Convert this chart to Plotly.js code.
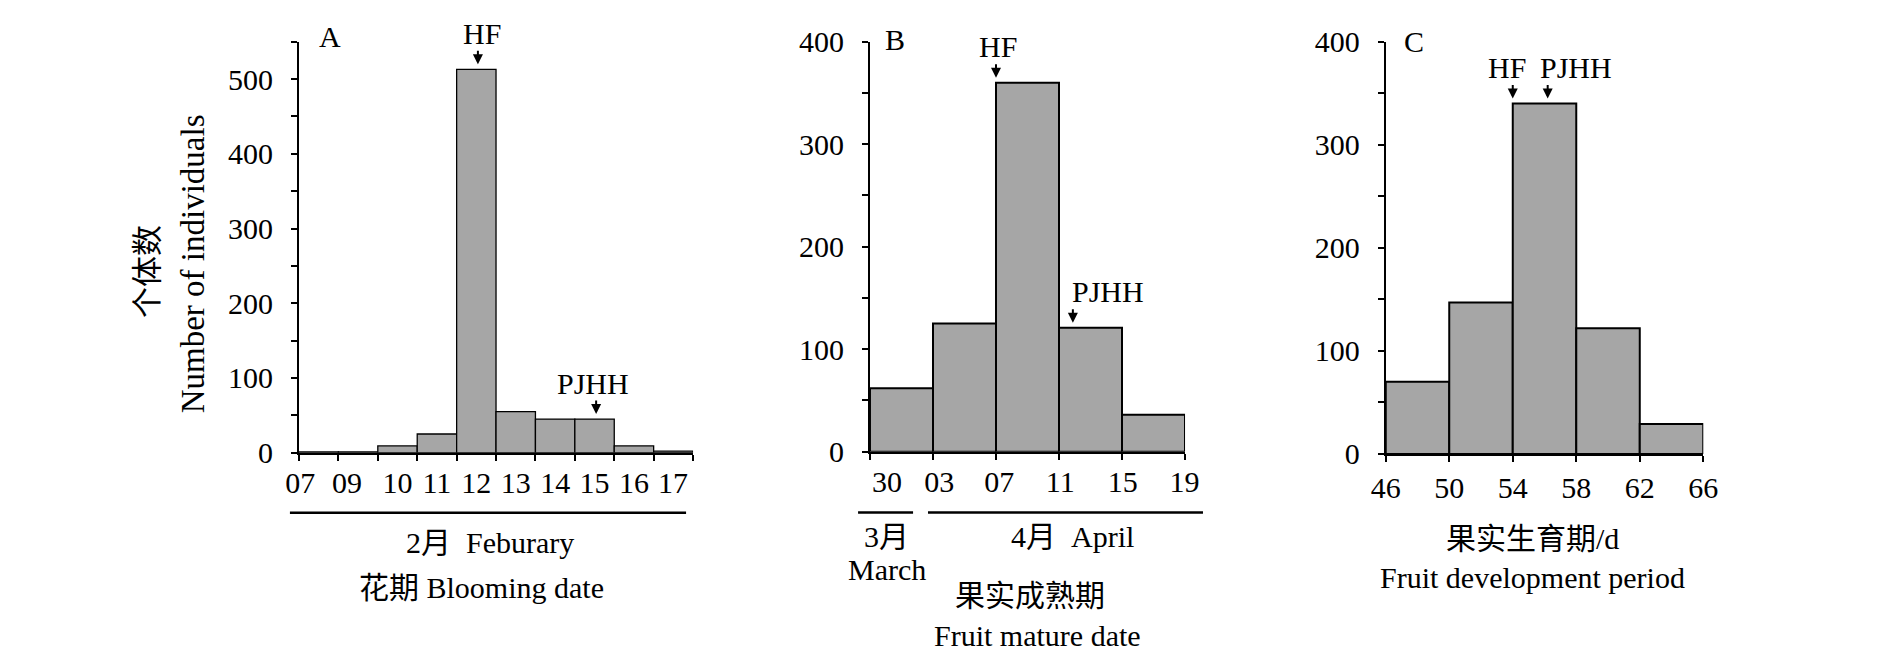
<!DOCTYPE html>
<html>
<head>
<meta charset="utf-8">
<script src="https://cdn.plot.ly/plotly-3.0.1.min.js"></script>
<style>html,body{margin:0;padding:0;background:#fff;}#chart{width:1890px;height:655px;}</style>
</head>
<body>
<div id="chart"></div>
<script>
// ---------- data ----------
const bloomingLabels = ['07','09','10','11','12','13','14','15','16','17'];
const bloomingCounts = [1, 1, 9, 25, 513, 55, 45, 45, 9, 2];
const matureLabels = ['30','03','07','11','15','19'];
const matureCounts = [62, 125, 360, 121, 36];
const developEdges = [46, 50, 54, 58, 62, 66];
const developCounts = [70, 147, 340, 122, 29];
// markers (HF / PJHH) per panel
const markersA = [{label:'HF', x:4.54, tx:4.64}, {label:'PJHH', x:7.54, tx:7.46}];
const markersB = [{label:'HF', x:2.0, tx:2.03}, {label:'PJHH', x:3.22, tx:3.78}];
const markersC = [{label:'HF', x:54.0, tx:53.66}, {label:'PJHH', x:56.2, tx:57.96}];

// ---------- layout helpers (positions, not data) ----------
const bloomingLabelPos = [0.03, 1.22, 2.5, 3.5, 4.5, 5.5, 6.5, 7.5, 8.5, 9.49];
const matureLabelPos = [0.27, 1.1, 2.05, 3.02, 4.01, 4.99];

const FONT = 'Liberation Serif, Noto Sans CJK SC, serif';
const BAR = '#a6a6a6';

function centers(n){ return Array.from({length:n}, (_, i) => i + 0.5); }
const devCenters = developCounts.map((_, i) => (developEdges[i] + developEdges[i+1]) / 2);

const traces = [
  {type:'bar', x:centers(bloomingCounts.length), y:bloomingCounts, width:1,
   marker:{color:BAR, line:{color:'#000', width:1.3}}, xaxis:'x', yaxis:'y', hoverinfo:'none'},
  {type:'bar', x:centers(matureCounts.length), y:matureCounts, width:1,
   marker:{color:BAR, line:{color:'#000', width:2}}, xaxis:'x2', yaxis:'y2', hoverinfo:'none'},
  {type:'bar', x:devCenters, y:developCounts, width:4,
   marker:{color:BAR, line:{color:'#000', width:2}}, xaxis:'x3', yaxis:'y3', hoverinfo:'none'}
];

function yAxis(domain, range, anchor){
  return {domain:domain, range:range, anchor:anchor, showgrid:false, zeroline:false,
    showline:true, linecolor:'#000', linewidth:2, ticks:'outside', ticklen:6, tickwidth:2,
    tickcolor:'#000', tickmode:'linear', tick0:0, dtick:100, ticklabelstandoff:12,
    tickfont:{family:FONT, size:30, color:'#000'},
    minor:{ticks:'outside', ticklen:6, tickwidth:2, tickcolor:'#000', dtick:50, tick0:0}};
}
function xAxisCat(domain, n, pos, labels, anchor){
  const mt = []; for (let i = 0; i <= n; i++) mt.push(i);
  return {domain:domain, range:[0, n], anchor:anchor, showgrid:false, zeroline:false,
    showline:true, linecolor:'#000', linewidth:2, ticks:'', tickmode:'array',
    tickvals:pos, ticktext:labels, ticklabelstandoff:2,
    tickfont:{family:FONT, size:30, color:'#000'},
    minor:{ticks:'outside', ticklen:6, tickwidth:2, tickcolor:'#000', tickmode:'array', tickvals:mt}};
}

const ann = [];
function txt(t, x, y, extra){ ann.push(Object.assign({text:t, x:x, y:y, xref:'paper', yref:'paper',
  showarrow:false, xanchor:'center', yanchor:'middle', font:{family:FONT, size:30, color:'#000'}}, extra||{})); }

function addMarkers(markers, xr, yr, valueAt){
  markers.forEach(m => {
    const v = valueAt(m.x);
    ann.push({x:m.x, y:v, xref:xr, yref:yr, text:'', showarrow:true, ax:0, ay:-20,
      arrowhead:2, arrowsize:1, arrowwidth:2, arrowcolor:'#000', standoff:5});
    ann.push({x:m.tx, y:v, xref:xr, yref:yr, text:m.label, showarrow:false, yshift:36,
      xanchor:'center', yanchor:'middle', font:{family:FONT, size:30, color:'#000'}});
  });
}
addMarkers(markersA, 'x', 'y', x => bloomingCounts[Math.floor(x)]);
addMarkers(markersB, 'x2', 'y2', x => matureCounts[Math.floor(x)]);
addMarkers(markersC, 'x3', 'y3', x => developCounts[Math.floor((x - developEdges[0]) / 4)]);

// panel letters
txt('A', 0.1746, 0.945);
txt('B', 0.4735, 0.939);
txt('C', 0.7481, 0.936);
// y titles
txt('个体数', 0.0783, 0.5863, {textangle:-90, font:{family:FONT, size:31, color:'#000'}});
txt('Number of individuals', 0.1021, 0.598, {textangle:-90, font:{family:FONT, size:33, color:'#000'}});
// panel A x titles
txt('2月\u00a0 Feburary', 0.2593, 0.171);
txt('花期 Blooming date', 0.2548, 0.1038);
// panel B
txt('3月', 0.4688, 0.1802);
txt('March', 0.4693, 0.1298);
txt('4月\u00a0 April', 0.5677, 0.1802);
txt('果实成熟期', 0.545, 0.0916);
txt('Fruit mature date', 0.5492, 0.0305);
// panel C
txt('果实生育期/d', 0.8111, 0.1786);
txt('Fruit development period', 0.8106, 0.1176);

const shapes = [
  {type:'line', xref:'paper', yref:'paper', x0:0.1534, x1:0.363, y0:0.2173, y1:0.2173, line:{color:'#000', width:2.5}},
  {type:'line', xref:'paper', yref:'paper', x0:0.454, x1:0.4831, y0:0.2176, y1:0.2176, line:{color:'#000', width:2.5}},
  {type:'line', xref:'paper', yref:'paper', x0:0.491, x1:0.6365, y0:0.2176, y1:0.2176, line:{color:'#000', width:2.5}}
];

const layout = {
  width:1890, height:655, margin:{l:0, r:0, t:0, b:0}, paper_bgcolor:'#fff', plot_bgcolor:'#fff',
  showlegend:false, bargap:0, font:{family:FONT, color:'#000'},
  xaxis: xAxisCat([0.1582, 0.3667], bloomingCounts.length, bloomingLabelPos, bloomingLabels, 'y'),
  yaxis: yAxis([0.3089, 0.9363], [0, 550], 'x'),
  xaxis2: xAxisCat([0.4603, 0.627], matureCounts.length, matureLabelPos, matureLabels, 'y2'),
  yaxis2: yAxis([0.3104, 0.9363], [0, 400], 'x2'),
  xaxis3: {domain:[0.7332, 0.9012], range:[developEdges[0], developEdges[developEdges.length-1]], anchor:'y3',
    showgrid:false, zeroline:false, showline:true, linecolor:'#000', linewidth:2, ticks:'outside',
    ticklen:6, tickwidth:2, tickcolor:'#000', tickmode:'array', tickvals:developEdges,
    ticktext:developEdges.map(String), ticklabelstandoff:0, tickfont:{family:FONT, size:30, color:'#000'}},
  yaxis3: yAxis([0.3069, 0.9363], [0, 400], 'x3'),
  annotations: ann, shapes: shapes
};

Plotly.newPlot('chart', traces, layout, {staticPlot:true, displayModeBar:false});
</script>
</body>
</html>
